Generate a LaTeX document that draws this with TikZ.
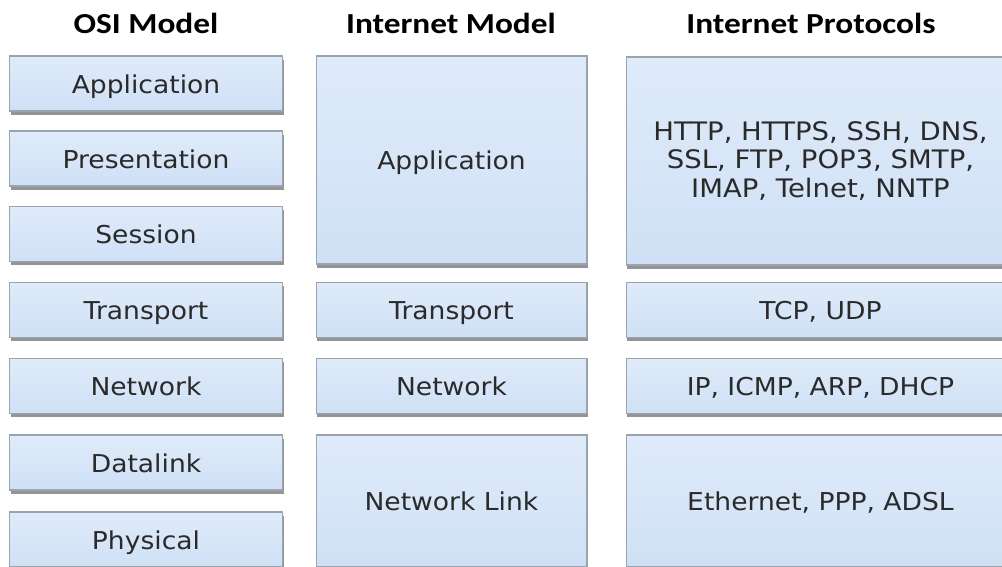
\documentclass[tikz,border=0pt]{standalone}
\usepackage{fontspec}
\setmainfont{DejaVu Sans}[FakeStretch=1.08]
\newfontfamily\headfont{Carlito}[FakeStretch=1.15]
\usetikzlibrary{shadows}
\definecolor{boxtop}{HTML}{DFEBF9}
\definecolor{boxbot}{HTML}{CFE0F6}
\definecolor{boxline}{HTML}{9AA4AE}
\definecolor{textgray}{HTML}{2A2A2A}
\tikzset{
  layer/.style={draw=boxline, top color=boxtop, bottom color=boxbot, line width=0.6pt,
    inner sep=0pt, outer sep=0pt, text=textgray, align=center,
    text height=1.1em, text depth=0pt,
    font=\fontsize{14}{16}\selectfont,
    drop shadow={shadow xshift=0.6pt, shadow yshift=-2.2pt, opacity=0.6, fill=black!70}},
  osi/.style={layer, minimum width=5.46cm, minimum height=1.1cm},
  inet/.style={layer, minimum width=5.42cm},
  proto/.style={layer, minimum width=7.78cm},
  head/.style={font=\headfont\bfseries\fontsize{16.5}{18}\selectfont}
}
\begin{document}
\begin{tikzpicture}[x=0.02cm,y=-0.02cm]
  \useasboundingbox (0,0) rectangle (1002,567);
  \clip (0,0) rectangle (1002,567);
  \node[head] (hosi) at (146,23) {OSI Model};
  \node[head] (hinet) at (451,23) {Internet Model};
  \node[head] (hproto) at (811,23) {Internet Protocols};
  \node[osi] (app) at (146,83.5) {Application};
  \node[osi] (pres) at (146,158.5) {Presentation};
  \node[osi] (sess) at (146,234) {Session};
  \node[osi] (trans) at (146,310) {Transport};
  \node[osi] (net) at (146,386) {Network};
  \node[osi] (dlink) at (146,462.5) {Datalink};
  \node[osi] (phys) at (146,539.5) {Physical};
  \node[inet, minimum height=4.16cm] (iapp) at (451.5,160) {Application};
  \node[inet, minimum height=1.1cm] (itrans) at (451.5,310) {Transport};
  \node[inet, minimum height=1.1cm] (inet) at (451.5,386) {Network};
  \node[inet, minimum height=2.64cm] (ilink) at (451.5,501) {Network Link};
  \node[proto, minimum height=4.16cm, text height=, text depth=, font=\fontsize{14.5}{16}\selectfont] (papp) at (820.5,161) {HTTP, HTTPS, SSH, DNS,\\SSL, FTP, POP3, SMTP,\\IMAP, Telnet, NNTP};
  \node[proto, minimum height=1.1cm] (ptrans) at (820.5,310) {TCP, UDP};
  \node[proto, minimum height=1.1cm] (pnet) at (820.5,386) {IP, ICMP, ARP, DHCP};
  \node[proto, minimum height=2.64cm] (plink) at (820.5,501) {Ethernet, PPP, ADSL};
\end{tikzpicture}
\end{document}
